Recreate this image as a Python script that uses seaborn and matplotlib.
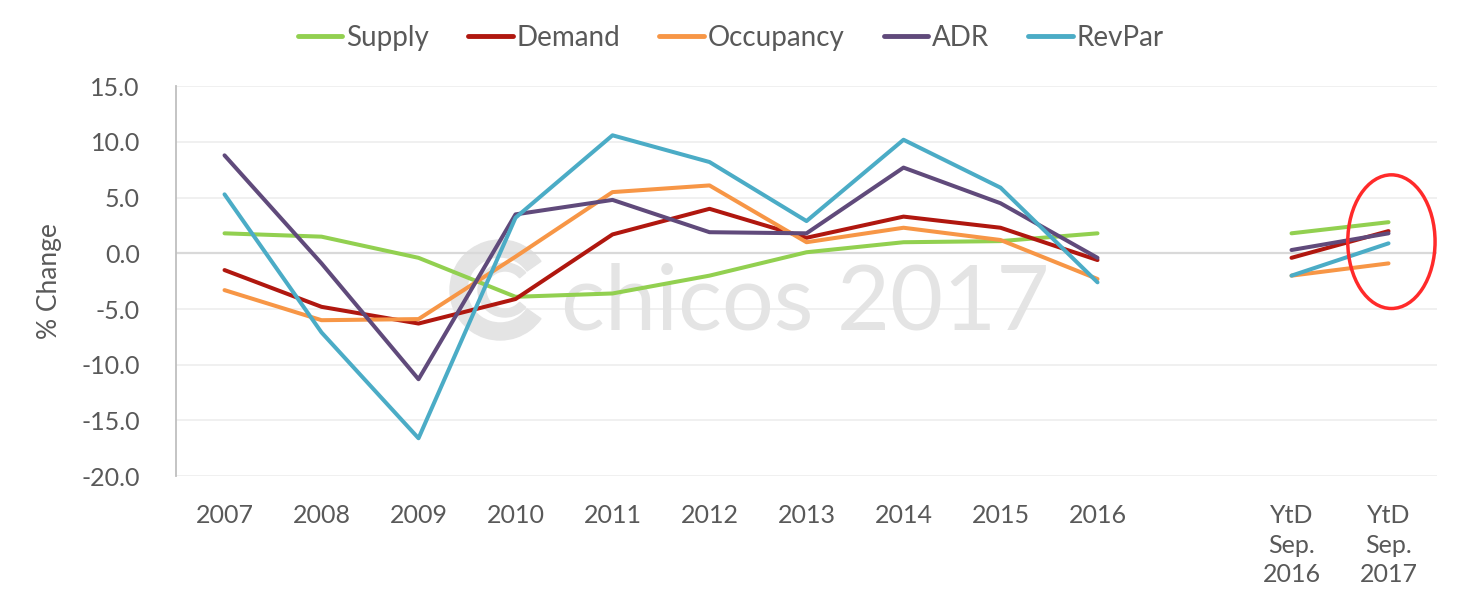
import numpy as np
import pandas as pd
import seaborn as sns
import matplotlib.pyplot as plt
from matplotlib.lines import Line2D
from matplotlib.patches import Ellipse, Wedge

years = ["2007", "2008", "2009", "2010", "2011", "2012", "2013", "2014", "2015", "2016"]
ytd = ["YtD\nSep.\n2016", "YtD\nSep.\n2017"]
metrics = ["Supply", "Demand", "Occupancy", "ADR", "RevPar"]

# annual % change 2007-2016
supply = [1.8, 1.5, -0.4, -3.9, -3.6, -2.0, 0.1, 1.0, 1.1, 1.8]
demand = [-1.5, -4.8, -6.3, -4.1, 1.7, 4.0, 1.4, 3.3, 2.3, -0.6]
occupancy = [-3.3, -6.0, -5.9, -0.3, 5.5, 6.1, 1.0, 2.3, 1.2, -2.3]
adr = [8.8, -0.9, -11.3, 3.5, 4.8, 1.9, 1.8, 7.7, 4.5, -0.4]
revpar = [5.3, -7.1, -16.6, 3.2, 10.6, 8.2, 2.9, 10.2, 5.9, -2.6]

# year to date September 2016 / 2017
supply_ytd = [1.8, 2.8]
demand_ytd = [-0.4, 2.0]
occupancy_ytd = [-2.0, -0.9]
adr_ytd = [0.3, 1.8]
revpar_ytd = [-2.0, 0.9]

colors = ["#92d050", "#b0170f", "#f79646", "#604a7b", "#4bacc6"]

# one empty slot between 2016 and the YtD columns
labels = years + [""] + ytd
pos_years = list(range(len(years)))
pos_ytd = [len(years) + 1 + i for i in range(len(ytd))]

rows = []
annual = [supply, demand, occupancy, adr, revpar]
partial = [supply_ytd, demand_ytd, occupancy_ytd, adr_ytd, revpar_ytd]
for m, a, p in zip(metrics, annual, partial):
    for x, v in zip(pos_years, a):
        rows.append({"pos": x, "value": v, "metric": m, "seg": "annual"})
    for x, v in zip(pos_ytd, p):
        rows.append({"pos": x, "value": v, "metric": m, "seg": "ytd"})
df = pd.DataFrame(rows)

sns.set_style("white")
plt.rcParams["font.family"] = ["Lato", "DejaVu Sans"]
plt.rcParams["axes.unicode_minus"] = False
txt = "#595959"

fig = plt.figure(figsize=(14.62, 6.12), dpi=100)
ax = fig.add_axes([0.1204, 0.222, 0.8625, 0.637])

# watermark
ax.text(0.305, 0.375, "chicos 2017", transform=ax.transAxes, fontsize=66,
        color="#e4e4e4", ha="left", va="baseline", zorder=1)
ax.add_patch(Wedge((5.0, 3.22), 0.5, 35, 325, width=0.17,
                   transform=fig.dpi_scale_trans, color="#e4e4e4", zorder=1))
ax.add_patch(Wedge((5.05, 3.22), 0.27, 40, 320, width=0.08,
                   transform=fig.dpi_scale_trans, color="#e4e4e4", zorder=1))

sns.lineplot(data=df, x="pos", y="value", hue="metric", units="seg",
             estimator=None, palette=colors, hue_order=metrics,
             linewidth=2.9, ax=ax, legend=False, zorder=3)

ax.set_xlim(-0.5, len(labels) - 0.5)
ax.set_ylim(-20, 15)
ax.set_yticks(np.arange(-20, 16, 5))
ax.set_yticklabels([f"{v:.1f}" for v in np.arange(-20, 16, 5)])
ax.set_xticks(range(len(labels)))
ax.set_xticklabels(labels, linespacing=1.35)
ax.tick_params(axis="x", length=0, pad=20, labelsize=18, labelcolor=txt)
ax.tick_params(axis="y", length=0, pad=26, labelsize=18, labelcolor=txt)
ax.set_xlabel("")
ax.set_ylabel("% Change", fontsize=19, color=txt, labelpad=14)

ax.grid(axis="y", color="#efefef", linewidth=1.3)
ax.set_axisbelow(True)
ax.axhline(0, color="#d9d9d9", linewidth=1.6, zorder=2)
for s in ["top", "right", "bottom"]:
    ax.spines[s].set_visible(False)
ax.spines["left"].set_color("#bfbfbf")
ax.spines["left"].set_linewidth(1.3)

ax.add_patch(Ellipse((12.03, 1.05), width=0.9, height=12.0, fill=False,
                     edgecolor="#ff2a2a", linewidth=2.5, zorder=4))

handles = [Line2D([], [], color=c, linewidth=3.5, solid_capstyle="round") for c in colors]
fig.legend(handles, metrics, loc="upper center", bbox_to_anchor=(0.5, 1.0),
           ncol=5, frameon=False, fontsize=20, handlelength=1.6,
           handletextpad=0.15, columnspacing=1.4, labelcolor=txt)

fig.savefig("out.png", dpi=100)
